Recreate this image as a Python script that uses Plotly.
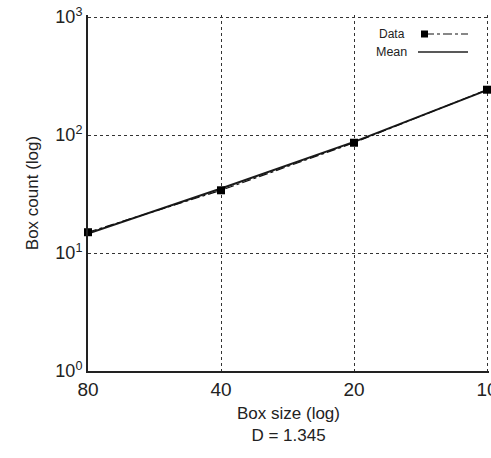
import plotly.graph_objects as go

box_size = [80, 40, 20, 10]
data_count = [15.0, 34.0, 86.0, 242.0]
mean_count = [14.6, 35.2, 87.5, 240.0]

x_ticks = [80, 40, 20, 10]
x_ticktext = ["80", "40", "20", "10"]
y_ticks = [1, 10, 100, 1000]
y_ticktext = ["10<sup>0</sup>", "10<sup>1</sup>", "10<sup>2</sup>", "10<sup>3</sup>"]

font_family = "Liberation Sans, Arial, sans-serif"

fig = go.Figure()
fig.add_trace(go.Scatter(
    x=box_size, y=mean_count, mode="lines", name="Mean",
    line=dict(color="#1a1a1a", width=2), showlegend=False,
))
fig.add_trace(go.Scatter(
    x=box_size, y=data_count, mode="lines+markers", name="Data",
    line=dict(color="#111111", width=1.2, dash="dashdot"),
    marker=dict(symbol="square", size=8, color="#000000"),
    showlegend=False, cliponaxis=False,
))

# Plot area in pixels: left 88, right 489, top 15, bottom 371
def px2x(px):
    return (px - 88) / 401.0

def py2y(py):
    return (371 - py) / 356.0

shapes = [
    dict(type="line", xref="paper", yref="paper", x0=px2x(425), x1=px2x(468),
         y0=py2y(34), y1=py2y(34), line=dict(color="#111111", width=1.2, dash="dashdot")),
    dict(type="rect", xref="paper", yref="paper", x0=px2x(421), x1=px2x(428),
         y0=py2y(37.5), y1=py2y(30.5), fillcolor="#000000", line=dict(width=0)),
    dict(type="line", xref="paper", yref="paper", x0=px2x(418), x1=px2x(468),
         y0=py2y(52), y1=py2y(52), line=dict(color="#222222", width=1.5)),
]
annotations = [
    dict(text="Data", xref="paper", yref="paper", x=px2x(377), y=py2y(34),
         xanchor="left", yanchor="middle", showarrow=False,
         font=dict(size=12, color="#222222", family=font_family)),
    dict(text="Mean", xref="paper", yref="paper", x=px2x(374), y=py2y(52),
         xanchor="left", yanchor="middle", showarrow=False,
         font=dict(size=12.5, color="#222222", family=font_family)),
]

fig.update_layout(
    width=491, height=458,
    margin=dict(l=88, r=2, t=15, b=87),
    paper_bgcolor="white", plot_bgcolor="white",
    font=dict(family=font_family, color="#222222"),
    shapes=shapes, annotations=annotations,
    xaxis=dict(
        type="log", range=[1.90309, 0.9955],
        tickvals=x_ticks, ticktext=x_ticktext,
        tickfont=dict(size=19), ticks="", ticklen=0,
        ticklabeloverflow="allow",
        showgrid=True, gridcolor="#333333", griddash="dot", gridwidth=1.2,
        showline=True, linecolor="#222222", linewidth=2, mirror=False,
        zeroline=False, automargin=False,
        title=dict(text="Box size (log)<br>D = 1.345", font=dict(size=17), standoff=8),
    ),
    yaxis=dict(
        type="log", range=[0, 3.017],
        tickvals=y_ticks, ticktext=y_ticktext,
        tickfont=dict(size=18), ticks="", ticklen=0,
        ticklabeloverflow="allow",
        showgrid=True, gridcolor="#333333", griddash="dot", gridwidth=1.2,
        showline=True, linecolor="#222222", linewidth=2, mirror=False,
        zeroline=False, automargin=False,
        title=dict(text="Box count (log)", font=dict(size=17), standoff=12),
    ),
)

fig.write_html("out.html", config={"displayModeBar": False},
               post_script="document.body.style.margin='0';")
